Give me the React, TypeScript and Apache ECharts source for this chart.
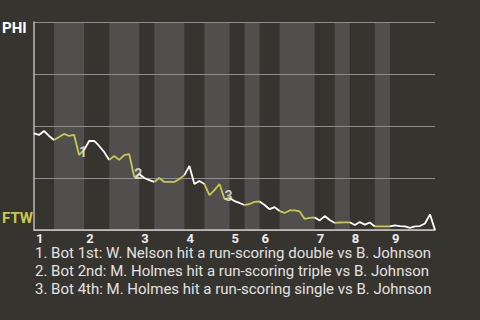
import React, { useEffect, useRef } from "react";
import * as echarts from "echarts";

// Win probability for PHI (1 = PHI wins, 0 = FTW wins), one value per plate appearance
const winProb: number[] = [
  0.465, 0.457, 0.476, 0.452, 0.433, 0.447, 0.462, 0.452, 0.457, 0.361,
  0.385, 0.428, 0.428, 0.404, 0.375, 0.337, 0.356, 0.337, 0.36, 0.365,
  0.255, 0.269, 0.25, 0.24, 0.231, 0.25, 0.231, 0.231, 0.231, 0.245,
  0.264, 0.308, 0.221, 0.236, 0.221, 0.168, 0.192, 0.221, 0.149, 0.154,
  0.139, 0.13, 0.12, 0.125, 0.135, 0.137, 0.12, 0.1, 0.11, 0.091,
  0.082, 0.094, 0.094, 0.089, 0.053, 0.058, 0.06, 0.046, 0.067, 0.048,
  0.034, 0.036, 0.037, 0.037, 0.024, 0.038, 0.026, 0.036, 0.017, 0.017,
  0.017, 0.017, 0.022, 0.019, 0.017, 0.01, 0.017, 0.019, 0.031, 0.075,
  0.0,
];

// Plate-appearance index at which each half-inning starts (last = end of game)
const halfInningBounds: number[] = [0, 4, 10, 15, 21, 24, 30, 34, 39, 42, 45, 49, 56, 60, 63, 68, 71, 80];

const inningLabels: string[] = ["1", "2", "3", "4", "5", "6", "7", "8", "9"];

// Key events: plate-appearance index and marker label
const eventIdx: number[] = [9, 20, 38];
const eventLabels: string[] = ["1", "2", "3"];

const notes: string[] = [
  "1. Bot 1st: W. Nelson hit a run-scoring double vs B. Johnson",
  "2. Bot 2nd: M. Holmes hit a run-scoring triple vs B. Johnson",
  "3. Bot 4th: M. Holmes hit a run-scoring single vs B. Johnson",
];

const awayTeam = "PHI";
const homeTeam = "FTW";

const BG = "#36342f";
const BAND = "#504f4d";
const WHITE = "#ffffff";
const YELLOW = "#c9c84e";
const FONT = "Roboto, 'Noto Sans', sans-serif";

export default function App() {
  const ref = useRef<HTMLDivElement>(null);

  useEffect(() => {
    if (!ref.current) return;
    const chart = echarts.init(ref.current, undefined, { renderer: "svg" });

    const bands: any[] = [];
    const lineSeries: any[] = [];
    for (let i = 0; i < halfInningBounds.length - 1; i++) {
      const s = halfInningBounds[i];
      const e = halfInningBounds[i + 1];
      const isBottom = i % 2 === 1;
      if (isBottom) bands.push([{ xAxis: s }, { xAxis: e }]);
      const data: number[][] = [];
      for (let k = s; k <= e; k++) data.push([k, winProb[k]]);
      lineSeries.push({
        type: "line",
        data,
        symbol: "none",
        z: 10,
        lineStyle: { color: isBottom ? YELLOW : WHITE, width: 1.8 },
        silent: true,
      });
    }

    const inningStarts = halfInningBounds.filter((_, i) => i % 2 === 0 && i < halfInningBounds.length - 1);

    chart.setOption({
      animation: false,
      backgroundColor: BG,
      grid: { left: 34, right: 45, top: 22, bottom: 90 },
      xAxis: {
        type: "value",
        min: 0,
        max: 80,
        z: 3,
        axisLine: { show: true, lineStyle: { color: "#c8c8c8", width: 1.5 } },
        axisTick: { show: false },
        splitLine: { show: false },
        axisLabel: {
          customValues: inningStarts,
          formatter: (v: number) => inningLabels[inningStarts.indexOf(v)] ?? "",
          color: "#eeeeee",
          fontFamily: FONT,
          fontWeight: "bold",
          fontSize: 13,
          lineHeight: 12,
          align: "left",
          margin: 2,
          padding: [0, 0, 0, 2],
        },
      },
      yAxis: {
        type: "value",
        min: 0,
        max: 1,
        interval: 0.25,
        z: 3,
        axisLine: { show: true, lineStyle: { color: "#b8b8b8", width: 1.5 } },
        axisTick: { show: false },
        axisLabel: { show: false },
        splitLine: { show: true, lineStyle: { color: "#8e8e8e", width: 1.2 } },
      },
      series: [
        {
          type: "line",
          data: [],
          z: 1,
          silent: true,
          markArea: {
            silent: true,
            itemStyle: { color: BAND },
            data: bands,
          },
        },
        ...lineSeries,
        {
          type: "scatter",
          z: 12,
          symbolSize: 0,
          silent: true,
          data: eventIdx.map((k, i) => ({ value: [k, winProb[k]], name: eventLabels[i] })),
          label: {
            show: true,
            position: "inside",
            offset: [4, -3],
            formatter: (p: any) => p.name,
            color: "#eeeeee",
            fontFamily: FONT,
            fontWeight: "bold",
            fontSize: 14,
          },
        },
      ],
      graphic: [
        {
          type: "text",
          left: 2,
          top: 20,
          style: { text: awayTeam, fill: WHITE, font: `bold 15px ${FONT}` },
        },
        {
          type: "text",
          left: 2,
          top: 210,
          style: { text: homeTeam, fill: YELLOW, font: `bold 15px ${FONT}` },
        },
        ...notes.map((t, i) => ({
          type: "text",
          left: 35,
          top: 245.5 + i * 17.8,
          style: {
            text: t,
            fill: "#e2e2e2",
            font: `15px ${FONT}`,
            lineHeight: 15,
          },
        })),
      ],
    });

    return () => chart.dispose();
  }, []);

  return (
    <div
      ref={ref}
      style={{ position: "fixed", left: 0, top: 0, width: 480, height: 320 }}
    />
  );
}
